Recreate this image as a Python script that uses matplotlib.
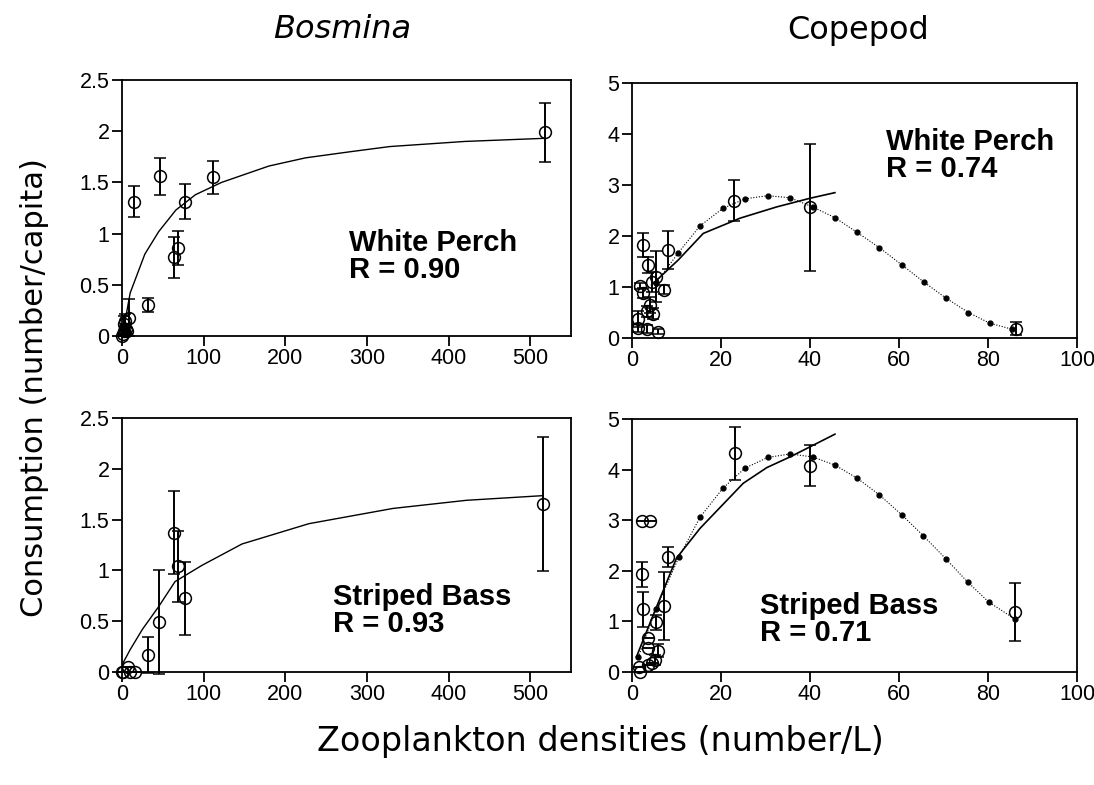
import matplotlib
matplotlib.use("Agg")
import matplotlib.pyplot as plt

plt.rcParams['font.family'] = ['Liberation Sans', 'DejaVu Sans']

# ---------------- Bosmina, White Perch ----------------
bos_wp_x = [518, 111, 46, 15, 76.6, 68, 64, 31.4, 8, 5, 0, 1, 2, 3, 4, 6]
bos_wp_y = [1.99, 1.55, 1.56, 1.31, 1.31, 0.86, 0.77, 0.30, 0.18, 0.07, 0.0, 0.02, 0.05, 0.12, 0.15, 0.05]
bos_wp_e = [0.29, 0.16, 0.18, 0.15, 0.17, 0.17, 0.20, 0.07, 0.18, 0.05, 0.0, 0.0, 0.05, 0.08, 0.06, 0.03]
bos_wp_fit_x = [0, 5, 10, 28, 45, 66, 90, 122, 180, 225, 280, 328, 420, 516]
bos_wp_fit_y = [0, 0.2, 0.42, 0.80, 1.02, 1.23, 1.38, 1.50, 1.66, 1.74, 1.80, 1.85, 1.90, 1.93]

# ---------------- Bosmina, Striped Bass ----------------
bos_sb_x = [516, 64.3, 68, 76.6, 45.4, 32.3, 0, 1.5, 7, 10, 16]
bos_sb_y = [1.65, 1.37, 1.04, 0.725, 0.495, 0.167, 0.0, 0.0, 0.05, 0.0, 0.0]
bos_sb_e = [0.66, 0.41, 0.35, 0.36, 0.51, 0.18, 0.0, 0.0, 0.0, 0.0, 0.0]
bos_sb_fit_x = [0, 10, 25, 44.6, 65, 98, 147, 229, 332, 422, 514]
bos_sb_fit_y = [0.07, 0.22, 0.42, 0.64, 0.89, 1.05, 1.26, 1.46, 1.61, 1.69, 1.735]

# ---------------- Copepod, White Perch ----------------
cop_wp_x = [86.2, 40, 23, 8.2, 2.4, 3.7, 5.5, 4.4, 7.3, 1.9, 2.4, 4.0, 4.8, 3.3, 1.4, 1.4, 3.3, 5.9]
cop_wp_y = [0.18, 2.56, 2.69, 1.72, 1.82, 1.43, 1.20, 1.10, 0.95, 1.02, 0.88, 0.65, 0.48, 0.52, 0.37, 0.19, 0.17, 0.12]
cop_wp_e = [0.13, 1.25, 0.40, 0.37, 0.23, 0.15, 0.50, 0.20, 0.08, 0.05, 0.10, 0.15, 0.10, 0.10, 0.15, 0.08, 0.08, 0.05]
cop_wp_fit_x = [4.4, 10.4, 16, 24.3, 32.5, 40, 45.6]
cop_wp_fit_y = [1.04, 1.53, 2.05, 2.35, 2.57, 2.74, 2.85]
cop_wp_dot_x = [5.4, 10.4, 15.3, 20.4, 25.4, 30.5, 35.5, 40.6, 45.6, 50.6, 55.6, 60.7, 65.7, 70.6, 75.6, 80.4, 85.5]
cop_wp_dot_y = [1.08, 1.67, 2.20, 2.54, 2.73, 2.79, 2.75, 2.57, 2.36, 2.07, 1.77, 1.43, 1.09, 0.78, 0.50, 0.29, 0.17]

# ---------------- Copepod, Striped Bass ----------------
cop_sb_x = [86.1, 40, 23.1, 8.2, 7.3, 2.2, 2.5, 2.3, 4.0, 5.5, 3.7, 3.7, 5.8, 5.2, 4.4, 3.7, 1.6, 1.8]
cop_sb_y = [1.19, 4.08, 4.32, 2.27, 1.31, 1.93, 1.24, 2.98, 2.98, 0.98, 0.67, 0.47, 0.42, 0.24, 0.17, 0.14, 0.10, 0.0]
cop_sb_e = [0.57, 0.40, 0.52, 0.20, 0.67, 0.25, 0.35, 0.0, 0.0, 0.15, 0.0, 0.0, 0.13, 0.10, 0.0, 0.0, 0.0, 0.0]
cop_sb_fit_x = [1.0, 5.2, 10, 15.3, 25, 30.3, 35.5, 40, 45.6]
cop_sb_fit_y = [0.30, 1.22, 2.25, 2.84, 3.73, 4.04, 4.25, 4.45, 4.70]
cop_sb_dot_x = [1.4, 5.4, 10.6, 15.3, 20.4, 25.4, 30.5, 35.5, 40.6, 45.6, 50.6, 55.6, 60.7, 65.5, 70.6, 75.4, 80.2, 86.0]
cop_sb_dot_y = [0.29, 1.25, 2.28, 3.06, 3.63, 4.03, 4.24, 4.31, 4.25, 4.09, 3.83, 3.50, 3.10, 2.69, 2.23, 1.78, 1.38, 1.05]

col_titles = ["Bosmina", "Copepod"]
labels = ["White Perch\nR = 0.90", "White Perch\nR = 0.74", "Striped Bass\nR = 0.93", "Striped Bass\nR = 0.71"]
bos_xticks = [0, 100, 200, 300, 400, 500]
cop_xticks = [0, 20, 40, 60, 80, 100]
bos_yticks = [0, 0.5, 1, 1.5, 2, 2.5]
bos_yticklabels = ["0", "0.5", "1", "1.5", "2", "2.5"]
cop_yticks = [0, 1, 2, 3, 4, 5]

fig = plt.figure(figsize=(10.94, 7.85), dpi=100)
W, H = 1094, 785

def make_ax(x0, x1, y0, y1):
    return fig.add_axes([x0 / W, 1 - y1 / H, (x1 - x0) / W, (y1 - y0) / H])

ax_tl = make_ax(122, 571, 80, 336)
ax_tr = make_ax(632, 1077, 83, 338)
ax_bl = make_ax(122, 571, 418, 672)
ax_br = make_ax(632, 1077, 419, 672)

def scatter_err(ax, x, y, e):
    ax.errorbar(x, y, yerr=e, fmt='o', mfc='none', mec='black', ms=8.5, mew=1.1,
                ecolor='black', elinewidth=1.4, capsize=4.5, capthick=1.4, zorder=3, clip_on=False)

def style(ax, xlim, ylim, xticks, yticks, yticklabels=None):
    ax.set_xlim(*xlim)
    ax.set_ylim(*ylim)
    ax.set_xticks(xticks)
    ax.set_yticks(yticks)
    if yticklabels is not None:
        ax.set_yticklabels(yticklabels)
    ax.tick_params(direction='out', length=7, width=1.3, labelsize=15.5, pad=2)
    for s in ax.spines.values():
        s.set_linewidth(1.3)

# top-left
ax_tl.plot(bos_wp_fit_x, bos_wp_fit_y, color='black', lw=1.0, zorder=2)
scatter_err(ax_tl, bos_wp_x, bos_wp_y, bos_wp_e)
style(ax_tl, (0, 550), (0, 2.5), bos_xticks, bos_yticks, bos_yticklabels)

# bottom-left
ax_bl.plot(bos_sb_fit_x, bos_sb_fit_y, color='black', lw=1.0, zorder=2)
scatter_err(ax_bl, bos_sb_x, bos_sb_y, bos_sb_e)
style(ax_bl, (0, 550), (0, 2.5), bos_xticks, bos_yticks, bos_yticklabels)

# top-right
ax_tr.plot(cop_wp_fit_x, cop_wp_fit_y, color='black', lw=1.2, zorder=2)
ax_tr.plot(cop_wp_dot_x, cop_wp_dot_y, color='black', lw=0.8, ls=(0, (1, 1.5)), marker='o', ms=3.5, zorder=2)
scatter_err(ax_tr, cop_wp_x, cop_wp_y, cop_wp_e)
style(ax_tr, (0, 100), (0, 5), cop_xticks, cop_yticks)

# bottom-right
ax_br.plot(cop_sb_fit_x, cop_sb_fit_y, color='black', lw=1.2, zorder=2)
ax_br.plot(cop_sb_dot_x, cop_sb_dot_y, color='black', lw=0.8, ls=(0, (1, 1.5)), marker='o', ms=3.5, zorder=2)
scatter_err(ax_br, cop_sb_x, cop_sb_y, cop_sb_e)
style(ax_br, (0, 100), (0, 5), cop_xticks, cop_yticks)

# annotations
ann_kw = dict(fontsize=21, fontweight='bold', ha='left', va='top', linespacing=0.95)
fig.text(349 / W, 1 - 229 / H, labels[0], **ann_kw)
fig.text(886 / W, 1 - 128 / H, labels[1], **ann_kw)
fig.text(333 / W, 1 - 583 / H, labels[2], **ann_kw)
fig.text(760 / W, 1 - 592 / H, labels[3], **ann_kw)

# column titles
fig.text(342 / W, 1 - 30 / H, col_titles[0], fontsize=23, family='DejaVu Sans', style='italic',
         ha='center', va='center')
fig.text(858 / W, 1 - 30 / H, col_titles[1], fontsize=23, family='DejaVu Sans', ha='center', va='center')

# axis labels
fig.text(35 / W, 1 - 388 / H, "Consumption (number/capita)", fontsize=22, family='DejaVu Sans',
         rotation=90, ha='center', va='center')
fig.text(600 / W, 1 - 742 / H, "Zooplankton densities (number/L)", fontsize=24, family='DejaVu Sans',
         ha='center', va='center')

fig.savefig("out.png", dpi=100)
